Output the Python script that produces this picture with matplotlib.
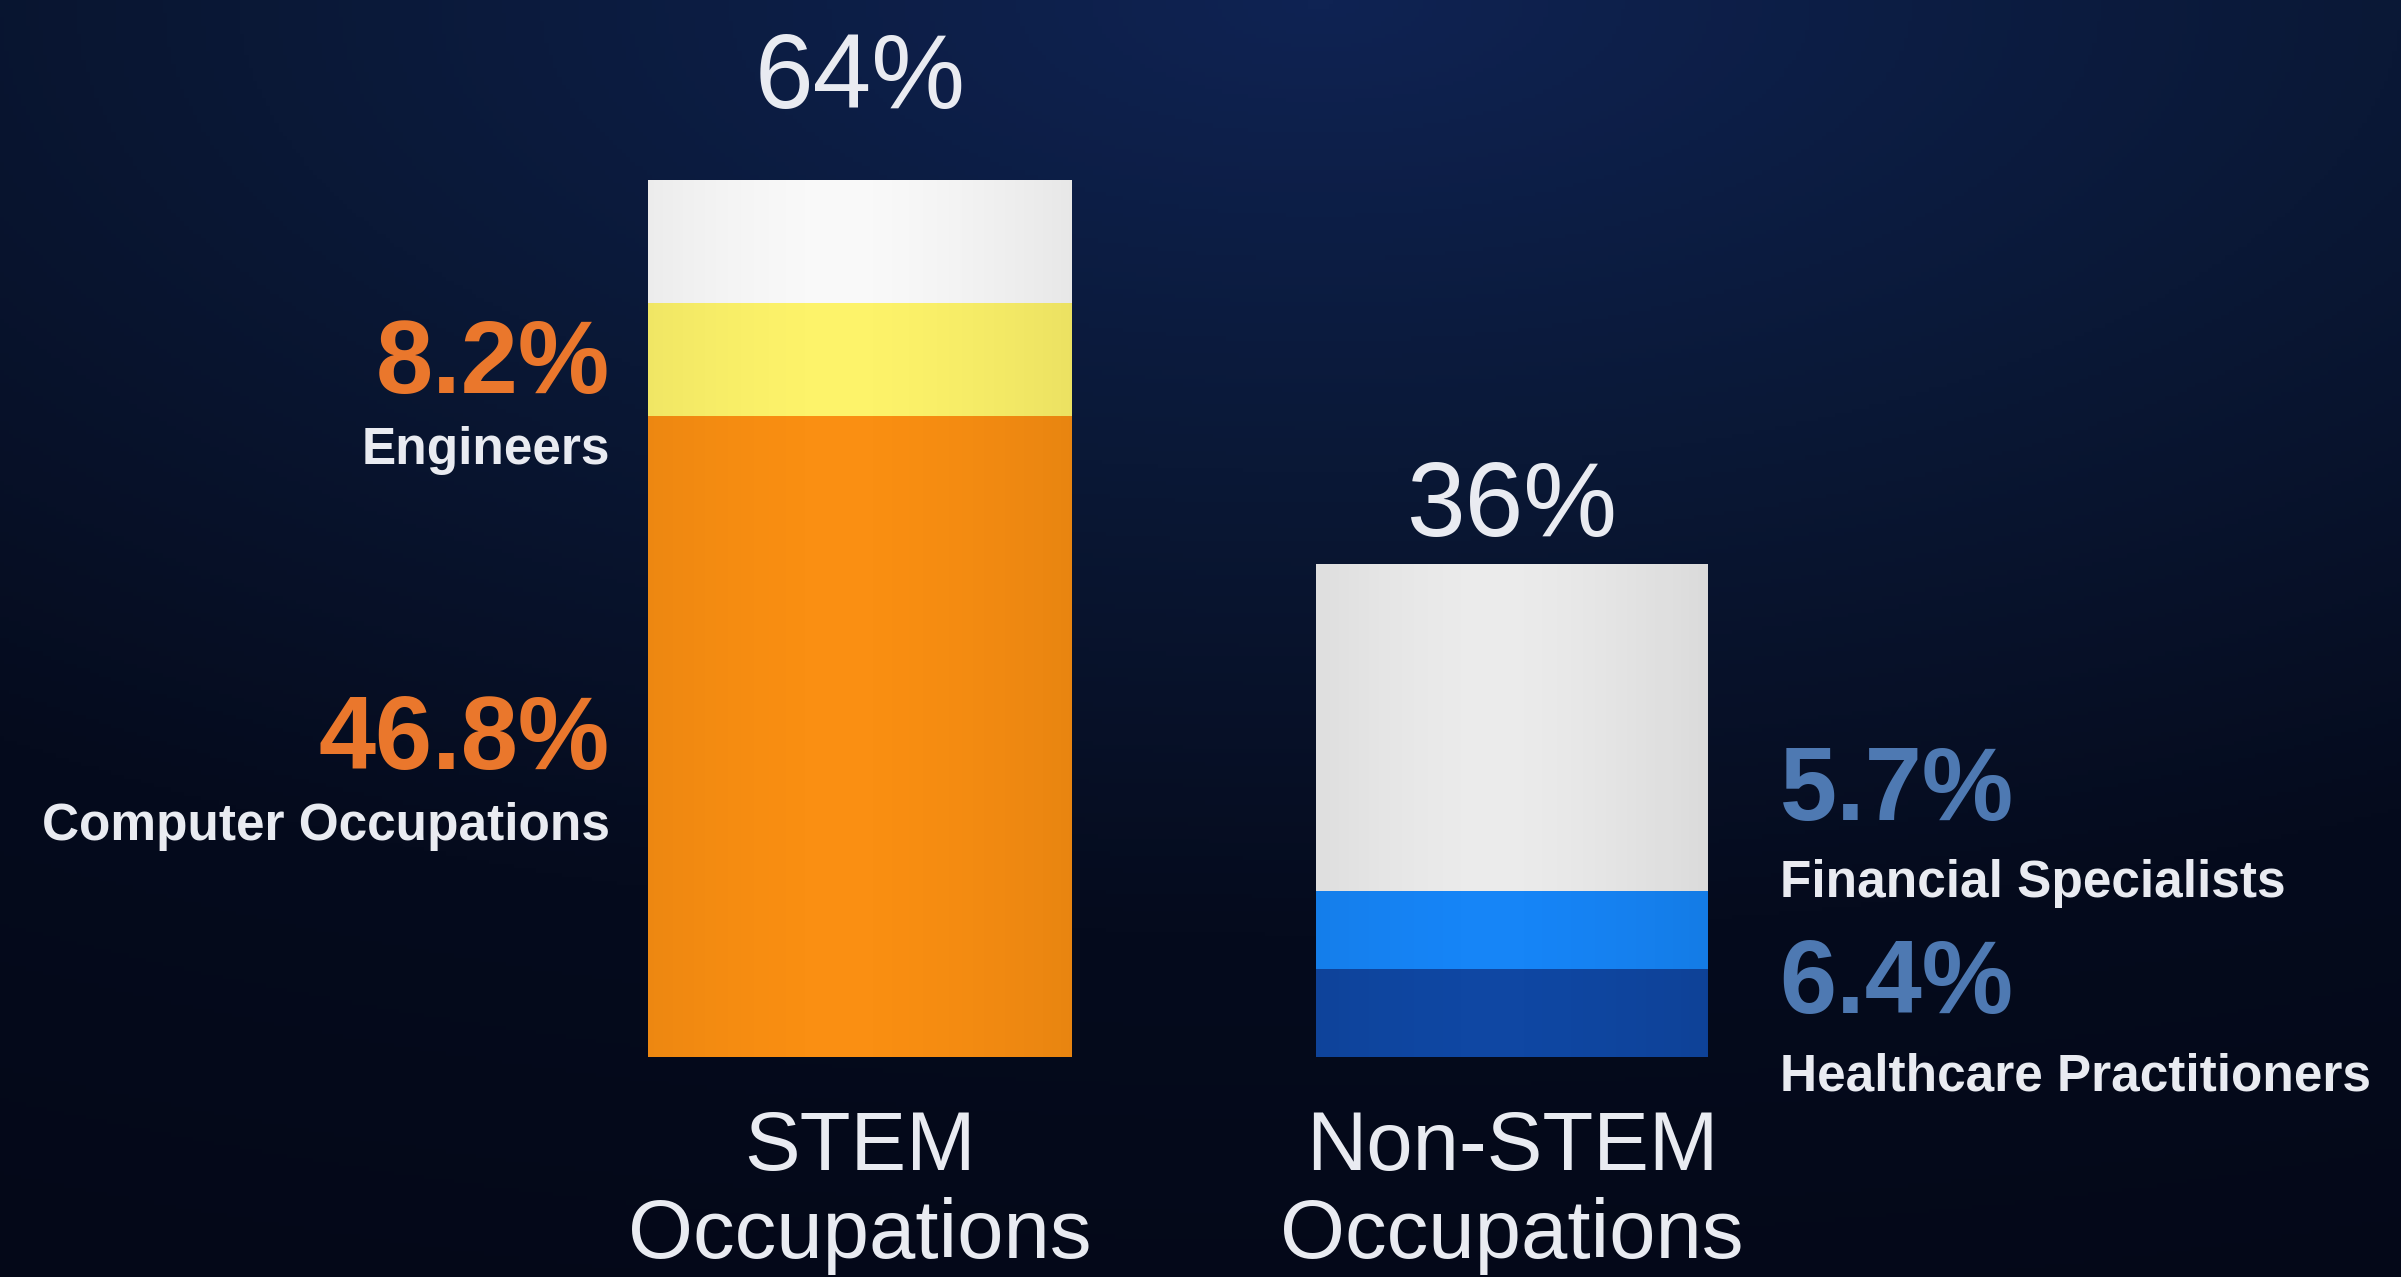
import numpy as np
import matplotlib.pyplot as plt
from matplotlib.colors import LinearSegmentedColormap

# Data
categories = ["STEM\nOccupations", "Non-STEM\nOccupations"]
totals = [64, 36]

stem_labels = ["Computer Occupations", "Engineers"]
stem_values = [46.8, 8.2]
nonstem_labels = ["Healthcare Practitioners", "Financial Specialists"]
nonstem_values = [6.4, 5.7]

plt.rcParams["font.family"] = ["Liberation Sans", "DejaVu Sans"]

TXT = "#e9ebf1"
ORANGE_TXT = "#ea772c"
BLUE_TXT = "#4e79b2"
stem_colors = ["#fa8f12", "#fdf36a", "#f9f9f9"]
nonstem_colors = ["#0f47a3", "#1685f7", "#ebebeb"]

fig = plt.figure(figsize=(24.01, 12.77), dpi=100)

# background: dark navy, lighter near the top centre
bg = fig.add_axes([0, 0, 1, 1])
bg.axis("off")
yy, xx = np.mgrid[0:1:300j, 0:1:560j]
t = np.clip(0.75 * np.hypot((xx - 0.55) * 0.9, yy * 1.1), 0, 1)
bg_cmap = LinearSegmentedColormap.from_list("bg", ["#0f2353", "#0a1836", "#050b1d", "#040818"])
bg.imshow(t, cmap=bg_cmap, aspect="auto", extent=[0, 1, 0, 1], origin="upper")

ax = fig.add_axes([0, 0, 1, 1])
ax.set_xlim(-1.319, 2.3635)
ax.set_ylim(-16.06, 77.15)
ax.axis("off")

x = np.arange(len(categories))
widths = [0.65, 0.60]
total_offsets = [72, 28]  # pixel gap between bar top and its total
segments = [stem_values, nonstem_values]
colors = [stem_colors, nonstem_colors]

for i in range(len(categories)):
    vals = list(segments[i]) + [totals[i] - sum(segments[i])]
    bottom = 0
    for v, c in zip(vals, colors[i]):
        ax.bar(x[i], v, bottom=bottom, width=widths[i], color=c, linewidth=0, zorder=2)
        bottom += v
    # faint shading toward the bar edges
    frame = ax.bar(x[i], totals[i], width=widths[i], color="none", linewidth=0, zorder=3)[0]
    u = np.linspace(0, 1, 200)
    shade = np.zeros((1, 200, 4))
    shade[..., 3] = 0.07 * np.abs(u - 0.45) ** 1.5 * 2.5
    img = ax.imshow(shade, extent=[x[i] - widths[i] / 2, x[i] + widths[i] / 2, 0, totals[i]],
                    aspect="auto", zorder=3)
    img.set_clip_path(frame)

    # total on top
    ax.annotate(f"{totals[i]}%", xy=(x[i], totals[i]), xytext=(0, total_offsets[i]),
                textcoords="offset pixels", ha="center", va="baseline",
                fontsize=76, color=TXT)

    # category name under the bar
    for k, line in enumerate(categories[i].split("\n")):
        ax.annotate(line, xy=(x[i], 0), xytext=(0, -113 - 88 * k),
                    textcoords="offset pixels", ha="center", va="baseline",
                    fontsize=60, color=TXT)

# STEM segment labels, left of the bar, centred on each segment
left = x[0] - widths[0] / 2
bottom = 0
for v, name in zip(stem_values, stem_labels):
    mid = bottom + v / 2
    ax.annotate(f"{v}%", xy=(left, mid), xytext=(-38, -33), textcoords="offset pixels",
                ha="right", va="baseline", fontsize=74, fontweight="bold", color=ORANGE_TXT)
    ax.annotate(name, xy=(left, mid), xytext=(-38, -104), textcoords="offset pixels",
                ha="right", va="baseline", fontsize=37, fontweight="bold", color=TXT)
    bottom += v

# Non-STEM labels, right of the bar, stacked upward from the bottom segment
right = x[1] + widths[1] / 2
base = nonstem_values[0] / 2
for k, (v, name) in enumerate(zip(nonstem_values, nonstem_labels)):
    dy = 193 * k
    ax.annotate(f"{v}%", xy=(right, base), xytext=(72, dy), textcoords="offset pixels",
                ha="left", va="baseline", fontsize=74, fontweight="bold", color=BLUE_TXT)
    ax.annotate(name, xy=(right, base), xytext=(72, dy - 77), textcoords="offset pixels",
                ha="left", va="baseline", fontsize=37, fontweight="bold", color=TXT)

fig.savefig("out.png", dpi=100, facecolor="#050b1d")
